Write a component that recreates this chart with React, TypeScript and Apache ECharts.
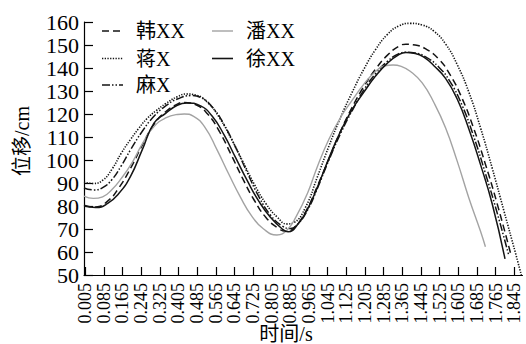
import { useEffect, useRef } from 'react';
import * as echarts from 'echarts';

const xTickLabels = [
  '0.005', '0.085', '0.165', '0.245', '0.325', '0.405', '0.485', '0.565',
  '0.645', '0.725', '0.805', '0.885', '0.965', '1.045', '1.125', '1.205',
  '1.285', '1.365', '1.445', '1.525', '1.605', '1.685', '1.765', '1.845',
];
const xTickValues = xTickLabels.map(Number);

const seriesNames = ['韩XX', '蒋X', '麻X', '潘XX', '徐XX'];

// 韩XX (dashed)
const hanData: [number, number][] = [
  [0, 80], [0.05, 79.6], [0.1, 82], [0.15, 88], [0.2, 96.5], [0.25, 106.5], [0.3, 115.5],
  [0.35, 121], [0.4, 124.3], [0.43, 125], [0.48, 124], [0.53, 120], [0.58, 112.5],
  [0.63, 102.5], [0.68, 92], [0.73, 82.5], [0.78, 75], [0.83, 70.5], [0.865, 69],
  [0.9, 70.5], [0.95, 77.5], [1.0, 88.5], [1.05, 100.5], [1.1, 112.5], [1.15, 123],
  [1.2, 132], [1.25, 139.5], [1.3, 145.5], [1.35, 149.5], [1.38, 150.3], [1.42, 150],
  [1.47, 148], [1.52, 144], [1.57, 137], [1.62, 127], [1.67, 114], [1.72, 98.5],
  [1.77, 81.5], [1.83, 59],
];

// 蒋X (dotted)
const jiangData: [number, number][] = [
  [0, 90.3], [0.04, 89.8], [0.08, 91.2], [0.12, 96], [0.16, 103], [0.2, 109], [0.235, 113.8],
  [0.27, 118], [0.31, 121.5], [0.35, 124.5], [0.4, 127.5], [0.44, 128.7], [0.48, 128.2],
  [0.53, 125], [0.58, 118.5], [0.63, 109.5], [0.68, 99.5], [0.73, 89.5], [0.78, 81],
  [0.83, 75], [0.87, 72.2], [0.9, 72.8], [0.95, 79.5], [1.0, 92.5], [1.05, 106],
  [1.1, 118.5], [1.15, 129.5], [1.2, 139.5], [1.25, 148], [1.3, 154.5], [1.35, 158.3],
  [1.4, 159.4], [1.45, 158.7], [1.5, 156], [1.55, 150.5], [1.6, 141.5], [1.65, 129.5],
  [1.7, 114], [1.75, 96.5], [1.8, 78], [1.85, 59.5], [1.875, 50],
];

// 麻X (dash-dot)
const maData: [number, number][] = [
  [0, 87.8], [0.04, 87], [0.08, 88], [0.12, 91.5], [0.16, 97.5], [0.2, 104.5], [0.25, 112.5],
  [0.3, 119], [0.35, 123.5], [0.4, 126.5], [0.46, 128], [0.5, 127.2], [0.55, 123],
  [0.6, 115.5], [0.65, 105.5], [0.7, 94.5], [0.75, 84], [0.8, 76], [0.85, 71.3],
  [0.885, 70.2], [0.92, 72.5], [0.96, 78.5], [1.0, 87.5], [1.05, 100], [1.1, 111.5],
  [1.15, 121.5], [1.2, 130.5], [1.25, 137.5], [1.3, 142.8], [1.35, 146.2], [1.38, 146.8],
  [1.42, 146.5], [1.47, 144.5], [1.52, 140.5], [1.57, 134], [1.62, 124], [1.67, 110.5],
  [1.72, 94.5], [1.77, 77.5], [1.82, 59],
];

// 潘XX (grey)
const panData: [number, number][] = [
  [0, 84.3], [0.04, 83.3], [0.08, 84], [0.12, 87.2], [0.16, 92], [0.207, 99], [0.25, 107],
  [0.3, 114.5], [0.35, 118.3], [0.4, 119.8], [0.43, 120], [0.47, 119], [0.52, 114],
  [0.57, 104.5], [0.62, 94], [0.67, 84], [0.72, 75.5], [0.77, 70], [0.827, 67.4],
  [0.87, 69.5], [0.91, 75.5], [0.96, 86], [1.0, 97], [1.05, 109], [1.1, 118.5],
  [1.15, 126], [1.2, 133], [1.25, 138.5], [1.29, 141], [1.325, 141.3], [1.36, 140.7],
  [1.4, 138.5], [1.45, 133.5], [1.5, 125], [1.55, 114], [1.6, 99.5], [1.65, 83.5],
  [1.7, 69], [1.721, 62.3],
];

// 徐XX (solid)
const xuData: [number, number][] = [
  [0, 80.3], [0.05, 79.3], [0.1, 81], [0.15, 85.5], [0.2, 93], [0.25, 104.5], [0.3, 116],
  [0.35, 120.3], [0.4, 123.8], [0.44, 124.8], [0.5, 123.5], [0.55, 119], [0.6, 111],
  [0.65, 101], [0.7, 91], [0.75, 82], [0.8, 75], [0.85, 70], [0.875, 68.8], [0.92, 72.5],
  [0.96, 79], [1.0, 88], [1.055, 102], [1.1, 112.5], [1.15, 122], [1.2, 129.5],
  [1.25, 136.5], [1.3, 142], [1.35, 145.8], [1.38, 146.7], [1.42, 146.3], [1.46, 144.5],
  [1.5, 141], [1.55, 135.5], [1.6, 126.5], [1.65, 113.5], [1.7, 98], [1.75, 81],
  [1.805, 57],
];

const FONT = "'Liberation Serif', 'Times New Roman', 'Noto Sans CJK SC', serif";
const BLACK = '#141414';
const GREY = '#a3a3a3';

const DASH = [7, 4];
const DOT = [1.3, 1.4];
const DASHDOT = [8, 2, 1.5, 2, 1.5, 2];

function labelFor(v: number): string {
  let best = xTickLabels[0];
  let bd = Infinity;
  for (const l of xTickLabels) {
    const d = Math.abs(Number(l) - v);
    if (d < bd) { bd = d; best = l; }
  }
  return best;
}

export default function App() {
  const ref = useRef<HTMLDivElement>(null);
  useEffect(() => {
    const chart = echarts.init(ref.current!, null, { renderer: 'svg' });
    const mk = (name: string, data: [number, number][], color: string, type: any, width: number) => ({
      name,
      type: 'line',
      data,
      smooth: true,
      symbol: 'none',
      lineStyle: { color, width, type },
      itemStyle: { color },
    });
    // manual legend: [name, color, dash, width, col, row]
    const legendItems: [string, string, number[] | null, number, number, number][] = [
      [seriesNames[0], BLACK, DASH, 1.6, 0, 0],
      [seriesNames[1], BLACK, DOT, 1.6, 0, 1],
      [seriesNames[2], BLACK, DASHDOT, 1.6, 0, 2],
      [seriesNames[3], GREY, null, 1.4, 1, 0],
      [seriesNames[4], BLACK, null, 1.6, 1, 1],
    ];
    const colX = [102, 212];
    const rowY = [31, 58.5, 85];
    const legendGraphics: any[] = [];
    legendItems.forEach(([name, color, dash, w, c, r]) => {
      legendGraphics.push({
        type: 'line',
        shape: { x1: colX[c], y1: rowY[r], x2: colX[c] + 21, y2: rowY[r] },
        style: { stroke: color, lineWidth: w, lineDash: dash || undefined },
      });
      legendGraphics.push({
        type: 'text', x: colX[c] + 34, y: rowY[r],
        style: { text: name, fontSize: 20, fontFamily: FONT, fill: '#000', verticalAlign: 'middle', align: 'left' },
      });
    });
    chart.setOption({
      animation: false,
      grid: { left: 84, right: 3.5, top: 22, bottom: 69 },
      xAxis: {
        type: 'value', min: 0, max: 1.88,
        axisLine: { show: true, lineStyle: { color: '#000', width: 1.2 } },
        axisTick: { show: true, inside: true, length: 8, customValues: xTickValues, lineStyle: { color: '#000', width: 1.2 } },
        axisLabel: {
          customValues: xTickValues, rotate: 90, margin: 8,
          showMinLabel: true, showMaxLabel: true, hideOverlap: false,
          fontSize: 18, fontFamily: FONT, color: '#000',
          formatter: (v: number) => labelFor(v),
        },
        splitLine: { show: false },
      },
      yAxis: {
        type: 'value', min: 50, max: 160, interval: 10,
        axisLine: { show: true, lineStyle: { color: '#000', width: 1.2 } },
        axisTick: { show: true, inside: true, length: 9, lineStyle: { color: '#000', width: 1.2 } },
        axisLabel: { fontSize: 22, fontFamily: FONT, color: '#000', margin: 5, showMinLabel: true, showMaxLabel: true },
        splitLine: { show: false },
      },
      graphic: [
        ...legendGraphics,
        {
          type: 'text', x: 22, y: 141, rotation: Math.PI / 2,
          style: { text: '位移/cm', fontSize: 20, fontFamily: FONT, fill: '#000', align: 'center', verticalAlign: 'middle' },
        },
        {
          type: 'text', x: 286, y: 334,
          style: { text: '时间/s', fontSize: 20, fontFamily: FONT, fill: '#000', align: 'center', verticalAlign: 'middle' },
        },
      ],
      series: [
        mk(seriesNames[0], hanData, BLACK, DASH, 1.5),
        mk(seriesNames[1], jiangData, BLACK, DOT, 1.6),
        mk(seriesNames[2], maData, BLACK, DASHDOT, 1.5),
        mk(seriesNames[3], panData, GREY, 'solid', 1.4),
        mk(seriesNames[4], xuData, BLACK, 'solid', 1.5),
      ],
    });
    return () => chart.dispose();
  }, []);
  return <div ref={ref} style={{ position: 'absolute', left: 0, top: 0, width: 526, height: 344 }} />;
}
